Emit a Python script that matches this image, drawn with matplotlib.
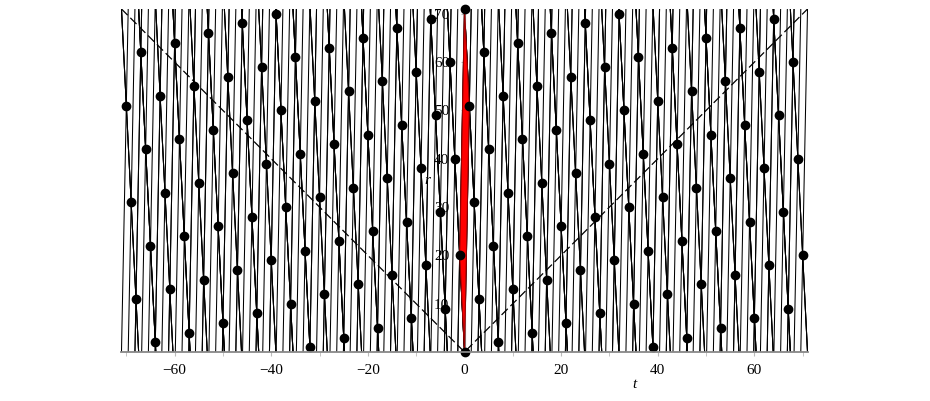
import matplotlib
matplotlib.use('Agg')
import matplotlib.pyplot as plt
from matplotlib.collections import LineCollection
from matplotlib.patches import Polygon

# lattice points (t, r), r for t = -70..-1, 0, 1..70
t_values = list(range(-70, 71))
r_left = [51, 31, 11, 62, 42, 22, 2, 53, 33, 13,
          64, 44, 24, 4, 55, 35, 15, 66, 46, 26,
          6, 57, 37, 17, 68, 48, 28, 8, 59, 39,
          19, 70, 50, 30, 10, 61, 41, 21, 1, 52,
          32, 12, 63, 43, 23, 3, 54, 34, 14, 65,
          45, 25, 5, 56, 36, 16, 67, 47, 27, 7,
          58, 38, 18, 69, 49, 29, 9, 60, 40, 20]
r_right = [51, 31, 11, 62, 42, 22, 2, 53, 33, 13,
           64, 44, 24, 4, 55, 35, 15, 66, 46, 26,
           6, 57, 37, 17, 68, 48, 28, 8, 59, 39,
           19, 70, 50, 30, 10, 61, 41, 21, 1, 52,
           32, 12, 63, 43, 23, 3, 54, 34, 14, 65,
           45, 25, 5, 56, 36, 16, 67, 47, 27, 7,
           58, 38, 18, 69, 49, 29, 9, 60, 40, 20]
r_values = r_left + [0] + r_right
extra_t, extra_r = [0], [71]

period = 71
basis = [(1, 51), (-1, 20)]   # cell edges
x_ticks = [-60, -40, -20, 0, 20, 40, 60]
x_minor = [-70, -50, -30, -10, 10, 30, 50, 70]
y_ticks = [10, 20, 30, 40, 50, 60, 70]

fig = plt.figure(figsize=(9.3, 4.01), dpi=100)
ax = fig.add_axes([121 / 930, 49 / 401, 687 / 930, 343 / 401])

# lattice lines through every point, along both basis directions
pts = list(zip(t_values + extra_t, r_values + extra_r))
segs = []
for dt, dr in basis:
    for t0, r0 in pts:
        ta = t0 + (0 - r0) * dt / dr
        tb = t0 + (period - r0) * dt / dr
        segs.append([(ta, 0), (tb, period)])
ax.add_collection(LineCollection(segs, colors='black', linewidths=0.75, zorder=2))

# fundamental cell
(a1, b1), (a2, b2) = basis
cell = [(0, 0), (a1, b1), (a1 + a2, b1 + b2), (a2, b2)]
ax.add_patch(Polygon(cell, closed=True, facecolor='red', edgecolor='#990000',
                     linewidth=0.8, zorder=3))

# light cone
cone_t = [-period, 0, period]
cone_r = [period, 0, period]
ax.plot(cone_t, cone_r, color='black', linestyle=(0, (7, 3)), linewidth=0.9, zorder=4)

ax.plot(t_values + extra_t, r_values + extra_r, 'o', color='black',
        markersize=6, zorder=5, clip_on=False)

ax.set_xlim(-71.1, 71.1)
ax.set_ylim(0, period)

for s in ['top', 'right']:
    ax.spines[s].set_visible(False)
ax.spines['left'].set_position(('data', 0))
ax.spines['left'].set_color('#888888')
ax.spines['bottom'].set_color('#888888')
ax.spines['bottom'].set_linewidth(1.3)
ax.spines['bottom'].set_zorder(6)

ax.set_xticks(x_ticks)
ax.set_xticks(x_minor, minor=True)
ax.set_yticks(y_ticks)
ax.tick_params(axis='x', which='both', length=3, color='#bbbbbb', pad=6,
               labelsize=11)
ax.tick_params(axis='y', length=3, color='#bbbbbb', pad=8, labelsize=11)
for lab in ax.get_xticklabels() + ax.get_yticklabels():
    lab.set_fontfamily('Liberation Serif')

fig.text(634 / 930, 1 - 385 / 401, 't', fontfamily='Liberation Serif',
         fontstyle='italic', fontsize=11, ha='center', va='center')
fig.text(427 / 930, 1 - 181 / 401, 'r', fontfamily='Liberation Serif',
         fontstyle='italic', fontsize=11, ha='center', va='center')

fig.savefig('out.png', dpi=100)
